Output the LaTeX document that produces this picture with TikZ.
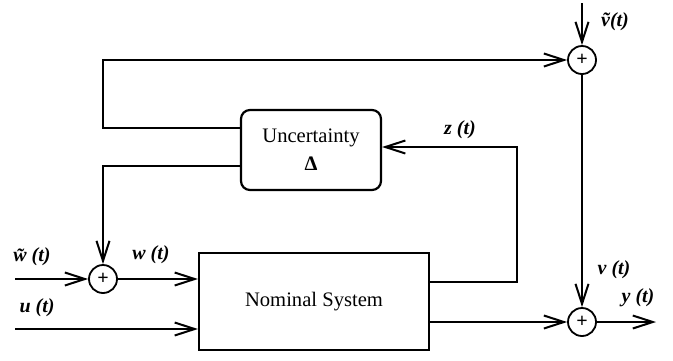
\documentclass[tikz,border=0pt]{standalone}
\usepackage{fontspec}
\setmainfont{Liberation Serif}
\usepackage{tikz}
\usetikzlibrary{positioning,arrows.meta,calc}
\tikzset{
  blk/.style={draw,line width=1.1pt,minimum width=115pt,minimum height=48.5pt,
              align=center,font=\fontsize{10.3}{12}\selectfont},
  ublk/.style={blk,rounded corners=4.5pt,minimum width=70pt,minimum height=40pt},
  sumnode/.style={draw,circle,line width=0.9pt,minimum size=14pt,inner sep=0pt,
                  font=\fontsize{10}{10}\selectfont\bfseries},
  sig/.style={->,>={Straight Barb[length=10pt,width=6.5pt]},line width=1pt},
  lbl/.style={font=\fontsize{10}{12}\selectfont\bfseries\itshape,inner sep=1pt},
}

\begin{document}
\begin{tikzpicture}[x=0.5pt,y=-0.5pt]
  \useasboundingbox (0,0) rectangle (673,360);
  % blocks
  \node[blk]  (nom) at (314,301.5) {Nominal System};
  \node[ublk] (unc) at (311,150)   {Uncertainty\\[2pt]\textbf{Δ}};
  % summing junctions
  \node[sumnode] (wsum) at (103,279) {+};
  \node[sumnode] (tsum) at (582,60)  {+};
  \node[sumnode] (bsum) at (582,322) {+};
  % free ends
  \coordinate (win)  at (15,279);
  \coordinate (uin)  at (15,329);
  \coordinate (vin)  at (582,3);
  \coordinate (yout) at (656,322);
  \coordinate (zc)   at (517,147);
  % signals
  \draw[sig] (win) -- (wsum);
  \draw[sig] (wsum) -- (wsum -| nom.west);
  \draw[sig] (uin) -- (uin -| nom.west);
  \draw[sig] (nom.east |- 0,282) -| (zc) -- (unc.east |- zc);
  \draw[sig] (unc.west |- 0,128) -- (wsum |- 0,128) |- (tsum);
  \draw[sig] (unc.west |- 0,166) -| (wsum);
  \draw[sig] (vin) -- (tsum);
  \draw[sig] (tsum) -- (bsum);
  \draw[sig] (nom.east |- bsum) -- (bsum);
  \draw[sig] (bsum) -- (yout);
  % labels
  \node[lbl] (lwt) at (32,257)  {\~{w} (t)};
  \node[lbl] (lw)  at (151,255) {w (t)};
  \node[lbl] (lu)  at (37,308)  {u (t)};
  \node[lbl] (lz)  at (460,130) {z (t)};
  \node[lbl] (lvt) at (615,22)  {\~{v}(t)};
  \node[lbl] (lv)  at (614,270) {v (t)};
  \node[lbl] (ly)  at (638,298) {y (t)};
\end{tikzpicture}
\end{document}
